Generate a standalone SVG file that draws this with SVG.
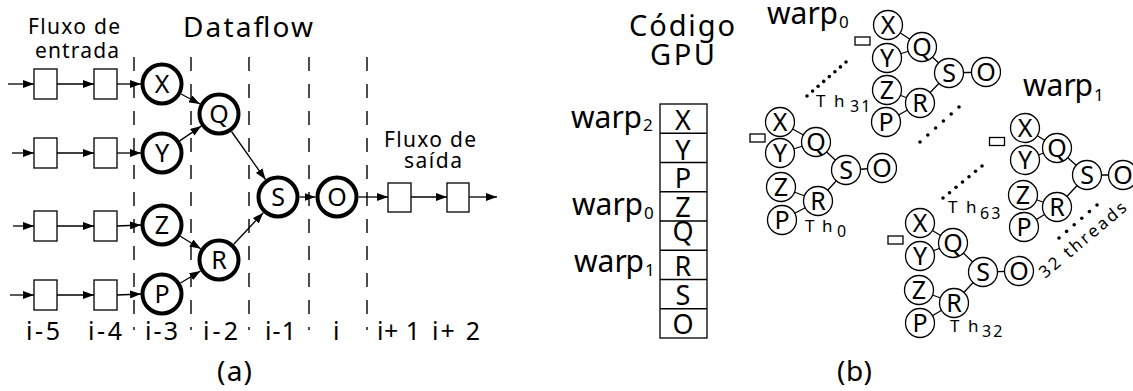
<svg xmlns="http://www.w3.org/2000/svg" width="1133" height="391" viewBox="0 0 1133 391">
<style>
text{font-family:"Noto Sans","Open Sans","DejaVu Sans",sans-serif;fill:#000}
.ln{stroke:#000;stroke-width:1.3;fill:none}
.ar{stroke:#000;stroke-width:1.3;fill:none;marker-end:url(#ah)}
.dash{stroke:#000;stroke-width:1.4;stroke-dasharray:14 13;fill:none}
.box{fill:#fff;stroke:#000;stroke-width:1.3}
.bc{fill:#fff;stroke:#000;stroke-width:4}
.sc{fill:#fff;stroke:#000;stroke-width:1.3}
.bl{font-size:25px;text-anchor:middle}
.sl{font-size:25px;text-anchor:middle}
.tick{font-size:25px}
.lab{font-size:21px}
.th{font-size:17px}
.sub{font-size:16px;letter-spacing:2px}
.wp{font-size:30px}
.ws{font-size:17px}
.code{font-size:27px;text-anchor:middle}
.dot{fill:#000}
</style>
<defs>
<marker id="ah" markerWidth="11" markerHeight="8" refX="11" refY="4" orient="auto" markerUnits="userSpaceOnUse"><path d="M0,0 L11,4 L0,8 z" fill="#000"/></marker>
</defs>

<!-- ===== (a) Dataflow ===== -->
<g id="titles-a">
<text class="lab" x="28" y="34" textLength="92" lengthAdjust="spacing">Fluxo de</text>
<text class="lab" x="35" y="58" textLength="84" lengthAdjust="spacing">entrada</text>
<text x="183" y="36.5" font-size="28" textLength="130" lengthAdjust="spacing">Dataflow</text>
<text class="lab" x="384" y="147" textLength="92" lengthAdjust="spacing">Fluxo de</text>
<text class="lab" x="404" y="168" textLength="58" lengthAdjust="spacing">saída</text>
</g>

<g id="stage-lines">
<line class="dash" x1="134" y1="57" x2="134" y2="330"/>
<line class="dash" x1="191" y1="57" x2="191" y2="330"/>
<line class="dash" x1="249" y1="57" x2="249" y2="330"/>
<line class="dash" x1="309" y1="57" x2="309" y2="330"/>
<line class="dash" x1="367" y1="57" x2="367" y2="330"/>
</g>

<g id="connectors-a">
<line class="ar" x1="8" y1="84" x2="34" y2="84"/>
<line class="ar" x1="57" y1="84" x2="94" y2="84"/>
<line class="ar" x1="117" y1="84" x2="141" y2="84"/>
<line class="ar" x1="12" y1="153" x2="34" y2="153"/>
<line class="ar" x1="57" y1="153" x2="94" y2="153"/>
<line class="ar" x1="117" y1="153" x2="141" y2="153"/>
<line class="ar" x1="13" y1="226" x2="34" y2="226"/>
<line class="ar" x1="57" y1="226" x2="94" y2="226"/>
<line class="ar" x1="117" y1="226" x2="141" y2="225"/>
<line class="ar" x1="10" y1="295" x2="34" y2="295"/>
<line class="ar" x1="57" y1="295" x2="94" y2="295"/>
<line class="ar" x1="117" y1="295" x2="141" y2="294"/>
<line class="ar" x1="181" y1="94" x2="200" y2="104"/>
<line class="ar" x1="179.7" y1="140.9" x2="201.3" y2="126.1"/>
<line class="ar" x1="231.5" y1="131.5" x2="265.5" y2="179.5"/>
<line class="ar" x1="180.3" y1="236.2" x2="200.7" y2="248.8"/>
<line class="ar" x1="180.5" y1="283" x2="200.5" y2="271"/>
<line class="ar" x1="233.7" y1="244.3" x2="263.3" y2="212.7"/>
<line class="ar" x1="299.5" y1="197" x2="315.5" y2="197"/>
<line class="ar" x1="358.5" y1="197" x2="388" y2="197"/>
<line class="ar" x1="411" y1="197" x2="447" y2="197"/>
<line class="ar" x1="469" y1="197" x2="497" y2="197"/>
</g>

<g id="in-buffers">
<rect class="box" x="34" y="69" width="23" height="30"/>
<rect class="box" x="94" y="69" width="23" height="30"/>
<rect class="box" x="34" y="138" width="23" height="30"/>
<rect class="box" x="94" y="138" width="23" height="30"/>
<rect class="box" x="34" y="211" width="23" height="30"/>
<rect class="box" x="94" y="211" width="23" height="30"/>
<rect class="box" x="34" y="280" width="23" height="30"/>
<rect class="box" x="94" y="280" width="23" height="30"/>
</g>
<g id="out-buffers">
<rect class="box" x="388" y="183" width="23" height="29"/>
<rect class="box" x="447" y="183" width="22" height="29"/>
</g>

<g id="nX"><circle class="bc" cx="162" cy="84" r="19.5"/><text class="bl" x="162" y="93">X</text></g>
<g id="nY"><circle class="bc" cx="162" cy="153" r="19.5"/><text class="bl" x="162" y="162">Y</text></g>
<g id="nZ"><circle class="bc" cx="162" cy="225" r="19.5"/><text class="bl" x="162" y="234">Z</text></g>
<g id="nP"><circle class="bc" cx="162" cy="294" r="19.5"/><text class="bl" x="162" y="303">P</text></g>
<g id="nQ"><circle class="bc" cx="219" cy="114" r="19.5"/><text class="bl" x="219" y="123">Q</text></g>
<g id="nR"><circle class="bc" cx="219" cy="260" r="19.5"/><text class="bl" x="219" y="269">R</text></g>
<g id="nS"><circle class="bc" cx="278" cy="197" r="19.5"/><text class="bl" x="278" y="206">S</text></g>
<g id="nO"><circle class="bc" cx="337" cy="197" r="19.5"/><text class="bl" x="337" y="206">O</text></g>

<g id="ticks">
<text class="tick" x="26" y="340" textLength="34" lengthAdjust="spacing">i-5</text>
<text class="tick" x="88" y="340" textLength="34" lengthAdjust="spacing">i-4</text>
<text class="tick" x="145" y="340" textLength="33" lengthAdjust="spacing">i-3</text>
<text class="tick" x="203" y="340" textLength="35" lengthAdjust="spacing">i-2</text>
<text class="tick" x="265" y="340" textLength="31" lengthAdjust="spacing">i-1</text>
<text class="tick" x="333" y="340">i</text>
<text class="tick" x="377" y="340" textLength="43" lengthAdjust="spacing">i+ 1</text>
<text class="tick" x="432" y="340" textLength="48" lengthAdjust="spacing">i+ 2</text>
</g>
<text x="217" y="381" font-size="28" textLength="35" lengthAdjust="spacing">(a)</text>

<!-- ===== (b) GPU code ===== -->
<g id="titles-b">
<text x="629" y="35.5" font-size="29" textLength="106" lengthAdjust="spacing">Código</text>
<text x="650" y="65" font-size="29" textLength="65" lengthAdjust="spacing">GPU</text>
</g>

<g id="code-column">
<rect class="box" x="660" y="104" width="47" height="234"/>
<line class="ln" x1="660" y1="133.25" x2="707" y2="133.25"/>
<line class="ln" x1="660" y1="162.5" x2="707" y2="162.5"/>
<line class="ln" x1="660" y1="191.75" x2="707" y2="191.75"/>
<line class="ln" x1="660" y1="221" x2="707" y2="221"/>
<line class="ln" x1="660" y1="250.25" x2="707" y2="250.25"/>
<line class="ln" x1="660" y1="279.5" x2="707" y2="279.5"/>
<line class="ln" x1="660" y1="308.75" x2="707" y2="308.75"/>
<text class="code" x="683" y="130">X</text>
<text class="code" x="683" y="159.5">Y</text>
<text class="code" x="683" y="188">P</text>
<text class="code" x="683" y="217">Z</text>
<text class="code" x="683" y="241">Q</text>
<text class="code" x="683" y="276">R</text>
<text class="code" x="683" y="305">S</text>
<text class="code" x="683" y="334">O</text>
</g>

<g id="warp-labels">
<text class="wp" x="571" y="128">war<tspan x="623.5">p</tspan><tspan class="ws" x="643" y="131">2</tspan></text>
<text class="wp" x="572" y="215">war<tspan x="624.5">p</tspan><tspan class="ws" x="644" y="219">0</tspan></text>
<text class="wp" x="574" y="272">war<tspan x="625.5">p</tspan><tspan class="ws" x="645" y="276">1</tspan></text>
<text class="wp" x="767" y="24">war<tspan x="819.5">p</tspan><tspan class="ws" x="839" y="28">0</tspan></text>
<text class="wp" x="1023" y="96">war<tspan x="1074.5">p</tspan><tspan class="ws" x="1094" y="101">1</tspan></text>
</g>

<!-- thread cluster Th31 -->
<g id="th31">
<path class="ln" d="M888,25 L922,47 M887,58 L922,47 M922,47 L949,73 M887,90 L920,103 M886,122 L920,103 M920,103 L949,73 M949,73 L986,72"/>
<rect class="box" x="855" y="37" width="15" height="8"/>
<circle class="sc" cx="888" cy="25" r="14.5"/><circle class="sc" cx="887" cy="58" r="14.5"/>
<circle class="sc" cx="887" cy="90" r="14.5"/><circle class="sc" cx="886" cy="122" r="14.5"/>
<circle class="sc" cx="922" cy="47" r="14.5"/><circle class="sc" cx="920" cy="103" r="14.5"/>
<circle class="sc" cx="949" cy="73" r="14.5"/><circle class="sc" cx="986" cy="72" r="14.5"/>
<text class="sl" x="888" y="34">X</text><text class="sl" x="887" y="67">Y</text>
<text class="sl" x="887" y="99">Z</text><text class="sl" x="886" y="131">P</text>
<text class="sl" x="922" y="56">Q</text><text class="sl" x="920" y="112">R</text>
<text class="sl" x="949" y="82">S</text><text class="sl" x="986" y="81">O</text>
<text class="th" x="816" y="107">T<tspan x="834">h</tspan><tspan class="sub" x="850" y="112">31</tspan></text>
</g>

<!-- thread cluster Th0 -->
<g id="th0">
<path class="ln" d="M780,122 L816,142 M780,153 L816,142 M816,142 L846,170 M781,187 L818,201 M782,220 L818,201 M818,201 L846,170 M846,170 L882,168"/>
<rect class="box" x="750" y="134" width="15" height="8"/>
<circle class="sc" cx="780" cy="122" r="14.5"/><circle class="sc" cx="780" cy="153" r="14.5"/>
<circle class="sc" cx="781" cy="187" r="14.5"/><circle class="sc" cx="782" cy="220" r="14.5"/>
<circle class="sc" cx="816" cy="142" r="14.5"/><circle class="sc" cx="818" cy="201" r="14.5"/>
<circle class="sc" cx="846" cy="170" r="14.5"/><circle class="sc" cx="882" cy="168" r="14.5"/>
<text class="sl" x="780" y="131">X</text><text class="sl" x="780" y="162">Y</text>
<text class="sl" x="781" y="196">Z</text><text class="sl" x="782" y="229">P</text>
<text class="sl" x="816" y="151">Q</text><text class="sl" x="818" y="210">R</text>
<text class="sl" x="846" y="179">S</text><text class="sl" x="882" y="177">O</text>
<text class="th" x="805" y="232">T<tspan x="822">h</tspan><tspan class="sub" x="837" y="237">0</tspan></text>
</g>

<!-- thread cluster Th63 -->
<g id="th63">
<path class="ln" d="M1025,128 L1057,148 M1025,160 L1057,148 M1057,148 L1087,175 M1023,195 L1057,207 M1024,227 L1057,207 M1057,207 L1087,175 M1087,175 L1123,175"/>
<rect class="box" x="989.5" y="137.5" width="15" height="8"/>
<circle class="sc" cx="1025" cy="128" r="14.5"/><circle class="sc" cx="1025" cy="160" r="14.5"/>
<circle class="sc" cx="1023" cy="195" r="14.5"/><circle class="sc" cx="1024" cy="227" r="14.5"/>
<circle class="sc" cx="1057" cy="148" r="14.5"/><circle class="sc" cx="1057" cy="207" r="14.5"/>
<circle class="sc" cx="1087" cy="175" r="14.5"/><circle class="sc" cx="1123" cy="175" r="14.5"/>
<text class="sl" x="1025" y="137">X</text><text class="sl" x="1025" y="169">Y</text>
<text class="sl" x="1023" y="204">Z</text><text class="sl" x="1024" y="236">P</text>
<text class="sl" x="1057" y="157">Q</text><text class="sl" x="1057" y="216">R</text>
<text class="sl" x="1087" y="184">S</text><text class="sl" x="1123" y="184">O</text>
<text class="th" x="948" y="213">T<tspan x="966">h</tspan><tspan class="sub" x="980" y="219">63</tspan></text>
</g>

<!-- thread cluster Th32 -->
<g id="th32">
<path class="ln" d="M920,223 L953,243 M920,256 L953,243 M953,243 L983,272 M919,290 L954,303 M920,323 L954,303 M954,303 L983,272 M983,272 L1019,271"/>
<rect class="box" x="888" y="236" width="15" height="8"/>
<circle class="sc" cx="920" cy="223" r="14.5"/><circle class="sc" cx="920" cy="256" r="14.5"/>
<circle class="sc" cx="919" cy="290" r="14.5"/><circle class="sc" cx="920" cy="323" r="14.5"/>
<circle class="sc" cx="953" cy="243" r="14.5"/><circle class="sc" cx="954" cy="303" r="14.5"/>
<circle class="sc" cx="983" cy="272" r="14.5"/><circle class="sc" cx="1019" cy="271" r="14.5"/>
<text class="sl" x="920" y="232">X</text><text class="sl" x="920" y="265">Y</text>
<text class="sl" x="919" y="299">Z</text><text class="sl" x="920" y="332">P</text>
<text class="sl" x="953" y="252">Q</text><text class="sl" x="954" y="312">R</text>
<text class="sl" x="983" y="281">S</text><text class="sl" x="1019" y="280">O</text>
<text class="th" x="950" y="332">T<tspan x="968">h</tspan><tspan class="sub" x="982" y="337">32</tspan></text>
</g>

<g id="ellipsis-dots">
<circle class="dot" cx="807" cy="96" r="1.8"/><circle class="dot" cx="812.6" cy="91.1" r="1.8"/><circle class="dot" cx="818.1" cy="86.3" r="1.8"/><circle class="dot" cx="823.7" cy="81.4" r="1.8"/><circle class="dot" cx="829.3" cy="76.6" r="1.8"/><circle class="dot" cx="834.9" cy="71.7" r="1.8"/><circle class="dot" cx="840.4" cy="66.9" r="1.8"/><circle class="dot" cx="846" cy="62" r="1.8"/>
<circle class="dot" cx="920" cy="142" r="1.8"/><circle class="dot" cx="927.8" cy="135" r="1.8"/><circle class="dot" cx="935.6" cy="128" r="1.8"/><circle class="dot" cx="943.4" cy="121" r="1.8"/><circle class="dot" cx="951.2" cy="114" r="1.8"/><circle class="dot" cx="959" cy="107" r="1.8"/>
<circle class="dot" cx="943" cy="198" r="1.8"/><circle class="dot" cx="949.5" cy="192.7" r="1.8"/><circle class="dot" cx="956" cy="187.3" r="1.8"/><circle class="dot" cx="962.5" cy="182" r="1.8"/><circle class="dot" cx="969" cy="176.7" r="1.8"/><circle class="dot" cx="975.5" cy="171.3" r="1.8"/><circle class="dot" cx="982" cy="166" r="1.8"/>
<circle class="dot" cx="1059" cy="238" r="1.8"/><circle class="dot" cx="1066.6" cy="231.4" r="1.8"/><circle class="dot" cx="1074.2" cy="224.8" r="1.8"/><circle class="dot" cx="1081.8" cy="218.2" r="1.8"/><circle class="dot" cx="1089.4" cy="211.6" r="1.8"/><circle class="dot" cx="1097" cy="205" r="1.8"/>
</g>

<text transform="translate(1045,279) rotate(-40)" x="0" y="0" font-size="17" textLength="108" lengthAdjust="spacing">32 threads</text>
<text x="837" y="381" font-size="28" textLength="35" lengthAdjust="spacing">(b)</text>
</svg>
